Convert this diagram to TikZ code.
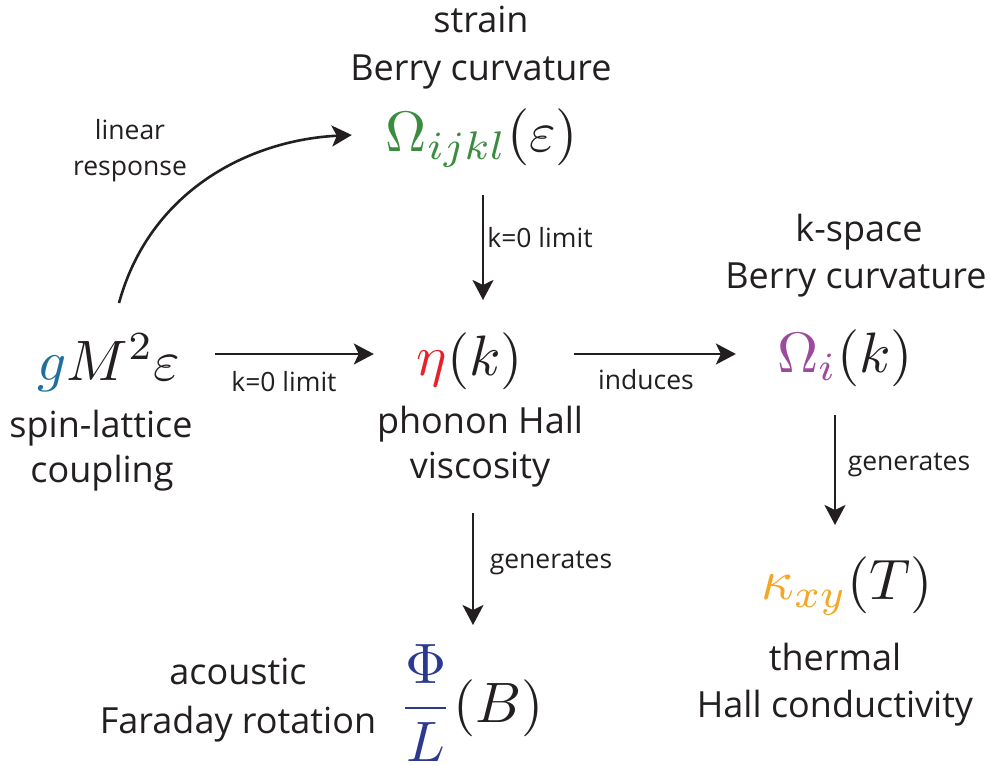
\documentclass[tikz,border=0pt]{standalone}
\usepackage{fontspec}
\setmainfont{Open Sans}
\usetikzlibrary{arrows.meta}
\definecolor{ink}{RGB}{35,31,32}
\definecolor{cg}{RGB}{32,112,159}
\definecolor{cgreen}{RGB}{58,140,63}
\definecolor{cred}{RGB}{232,32,42}
\definecolor{cpurple}{RGB}{156,74,158}
\definecolor{corange}{RGB}{245,166,35}
\definecolor{cnavy}{RGB}{43,57,144}
\begin{document}
\begin{tikzpicture}[x=1pt,y=-1pt,
  every node/.style={inner sep=0pt,text=ink},
  bigtext/.style={font=\fontsize{36}{44}\selectfont,anchor=base},
  smalltext/.style={font=\fontsize{26.5}{30}\selectfont,anchor=base},
  mth/.style={font=\fontsize{10}{12}\selectfont,scale=5.7,anchor=base},
  arr/.style={draw=ink,line width=2.6pt,-{Stealth[length=20pt,width=21pt,inset=5pt]}}]
\useasboundingbox (0,0) rectangle (991,766);

% top
\node[bigtext] (strain) at (481,32) {strain};
\node[bigtext] (berry1) at (481,80) {Berry curvature};
\node[mth] (om) at (482,151) {${\color{cgreen}\Omega_{ijkl}}(\varepsilon)$};

% left
\node[mth] (g) at (109,380) {${\color{cg}g}M^2\varepsilon$};
\node[bigtext] (spin) at (101,437) {spin-lattice};
\node[bigtext] (coup) at (102,482) {coupling};

% center
\node[mth] (eta) at (470,375) {${\color{cred}\eta}(k)$};
\node[bigtext] (phonon) at (480,433) {phonon Hall};
\node[bigtext] (visc) at (480,478) {viscosity};

% right
\node[bigtext] (kspace) at (859,241) {k-space};
\node[bigtext] (berry2) at (856,288) {Berry curvature};
\node[mth] (omi) at (845,372) {${\color{cpurple}\Omega_i}(k)$};

\node[mth] (kap) at (847,599) {${\color{corange}\kappa_{xy}}(T)$};
\node[bigtext] (thermal) at (835,670) {thermal};
\node[bigtext] (hallc) at (835,717) {Hall conductivity};

% bottom
\node[mth] (frac) at (471,722) {${\color{cnavy}\displaystyle\frac{\Phi}{L}}(B)$};
\node[bigtext] (acou) at (238,684) {acoustic};
\node[bigtext] (farad) at (238,733) {Faraday rotation};

% labels
\node[smalltext] (lin) at (130,139) {linear};
\node[smalltext] (resp) at (130,175) {response};
\node[smalltext] (k0v) at (540,247) {k=0 limit};
\node[smalltext] (k0h) at (284,391) {k=0 limit};
\node[smalltext] (ind) at (646,389) {induces};
\node[smalltext] (gen1) at (909,470) {generates};
\node[smalltext] (gen2) at (551,568) {generates};

% connectors
\draw[arr] ([shift={(10,-77)}]g.base) .. controls ([shift={(41,-190)}]g.base) and ([shift={(141,-240)}]g.base) .. ([shift={(-33,-16)}]om.base west);
\draw[arr] ([shift={(1,44)}]om.base) -- ([shift={(13,-75)}]eta.base);
\draw[arr] ([shift={(33,-26)}]g.base east) -- ([shift={(-42,-21)}]eta.base west);
\draw[arr] ([shift={(50,-21)}]eta.base east) -- ([shift={(-40,-18)}]omi.base west);
\draw[arr] ([shift={(-10,43)}]omi.base) -- ([shift={(-12,-74)}]kap.base);
\draw[arr] ([shift={(-7,35)}]visc.base) -- ([shift={(2,-97)}]frac.base);
\end{tikzpicture}
\end{document}
